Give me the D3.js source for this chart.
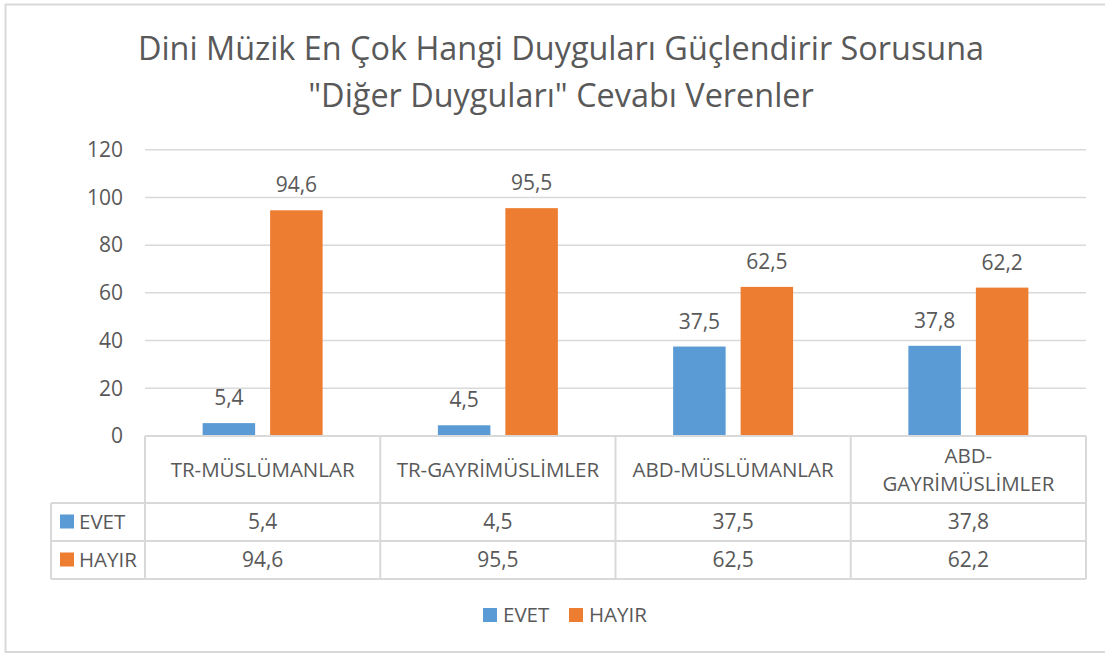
<!DOCTYPE html>
<html><head><meta charset="utf-8">
<script src="https://cdn.jsdelivr.net/npm/d3@7"></script>
<style>
body{margin:0;background:#fff;}
text{font-family:"Open Sans","Noto Sans",sans-serif;fill:#595959;}
</style></head>
<body><svg id="c" width="1105" height="653"></svg>
<script>
const titleLines = ["Dini Müzik En Çok Hangi Duyguları Güçlendirir Sorusuna", "\"Diğer Duyguları\" Cevabı Verenler"];
const categories = ["TR-MÜSLÜMANLAR", "TR-GAYRİMÜSLİMLER", "ABD-MÜSLÜMANLAR", "ABD-GAYRİMÜSLİMLER"];
const categoryLines = [["TR-MÜSLÜMANLAR"], ["TR-GAYRİMÜSLİMLER"], ["ABD-MÜSLÜMANLAR"], ["ABD-", "GAYRİMÜSLİMLER"]];
const seriesNames = ["EVET", "HAYIR"];
const evet = [5.4, 4.5, 37.5, 37.8];
const hayir = [94.6, 95.5, 62.5, 62.2];
const yTicks = [0, 20, 40, 60, 80, 100, 120];
const colors = ["#5b9bd5", "#ed7d31"];

const seriesValues = [evet, hayir];
const loc = d3.formatLocale({decimal: ",", thousands: ".", grouping: [3], currency: ["", ""]});
const fmt = loc.format(".1f");

const svg = d3.select("#c");
// outer border
svg.append("rect").attr("x", 5.5).attr("y", 4.5).attr("width", 1120).attr("height", 647.5)
  .attr("fill", "none").attr("stroke", "#d9d9d9").attr("stroke-width", 2);

// title
svg.append("g").selectAll("text").data(titleLines).join("text")
  .attr("x", 561).attr("y", (d, i) => 60 + i * 47)
  .attr("text-anchor", "middle").attr("font-size", 32.4).text(d => d);

const left = 145, right = 1086;
const x0 = d3.scaleBand().domain(categories).range([left, right]).padding(0);
const x1 = d3.scaleBand().domain(seriesNames).range([0, x0.bandwidth()]).paddingInner(0.222).paddingOuter(0.854);
const y = d3.scaleLinear().domain([0, 120]).range([436, 149.7]);

// gridlines
svg.append("g").selectAll("line").data(yTicks.filter(t => t > 0)).join("line")
  .attr("x1", left).attr("x2", right).attr("y1", d => y(d)).attr("y2", d => y(d))
  .attr("stroke", "#d9d9d9").attr("stroke-width", 1.5);

// y axis labels
const yAxis = d3.axisLeft(y).tickValues(yTicks).tickSize(0).tickPadding(0).tickFormat(d3.format("d"));
const ya = svg.append("g").attr("transform", "translate(123,0)").call(yAxis);
ya.select(".domain").remove();
ya.selectAll("text").attr("font-size", 21).attr("fill", "#595959").attr("font-family", "\"Open Sans\",sans-serif");

// bars
const groups = svg.append("g").selectAll("g").data(categories).join("g")
  .attr("transform", d => `translate(${x0(d)},0)`);
groups.selectAll("rect").data((d, i) => seriesNames.map((s, j) => ({s, v: seriesValues[j][i], j})))
  .join("rect")
  .attr("x", d => x1(d.s)).attr("width", x1.bandwidth())
  .attr("y", d => y(d.v)).attr("height", d => y(0) - y(d.v))
  .attr("fill", d => colors[d.j]);
groups.selectAll("text").data((d, i) => seriesNames.map((s, j) => ({s, v: seriesValues[j][i], j})))
  .join("text")
  .attr("x", d => x1(d.s) + x1.bandwidth() / 2).attr("y", d => y(d.v) - 18)
  .attr("text-anchor", "middle").attr("font-size", 21).text(d => fmt(d.v));

// data table
const tbl = svg.append("g");
const hdrTop = 436, hdrBot = 503, rowH = 38, legLeft = 51;
const lineC = "#d9d9d9", lw = 2;
tbl.append("line").attr("x1", left).attr("x2", right).attr("y1", hdrTop).attr("y2", hdrTop).attr("stroke", lineC).attr("stroke-width", lw);
[0, 1, 2].forEach(k => {
  tbl.append("line").attr("x1", legLeft).attr("x2", right)
    .attr("y1", hdrBot + k * rowH).attr("y2", hdrBot + k * rowH).attr("stroke", lineC).attr("stroke-width", lw);
});
tbl.append("line").attr("x1", legLeft).attr("x2", legLeft).attr("y1", hdrBot).attr("y2", hdrBot + 2 * rowH).attr("stroke", lineC).attr("stroke-width", lw);
categories.forEach(c => {
  tbl.append("line").attr("x1", x0(c)).attr("x2", x0(c)).attr("y1", hdrTop).attr("y2", hdrBot + 2 * rowH).attr("stroke", lineC).attr("stroke-width", lw);
});
tbl.append("line").attr("x1", right).attr("x2", right).attr("y1", hdrTop).attr("y2", hdrBot + 2 * rowH).attr("stroke", lineC).attr("stroke-width", lw);

// header labels
categories.forEach((c, i) => {
  const lines = categoryLines[i];
  const cy = (hdrTop + hdrBot) / 2;
  lines.forEach((ln, k) => {
    tbl.append("text").attr("x", x0(c) + x0.bandwidth() / 2)
      .attr("y", cy + (k - (lines.length - 1) / 2) * 28)
      .attr("dy", "0.35em").attr("text-anchor", "middle").attr("font-size", 20.5).text(ln);
  });
});
// rows
seriesNames.forEach((s, j) => {
  const cy = hdrBot + j * rowH + rowH / 2;
  tbl.append("rect").attr("x", 60).attr("y", cy - 7.5).attr("width", 14).attr("height", 14).attr("fill", colors[j]);
  tbl.append("text").attr("x", 79).attr("y", cy).attr("dy", "0.35em").attr("font-size", 20.5).text(s);
  categories.forEach((c, i) => {
    tbl.append("text").attr("x", x0(c) + x0.bandwidth() / 2).attr("y", cy).attr("dy", "0.35em")
      .attr("text-anchor", "middle").attr("font-size", 21).text(fmt(seriesValues[j][i]));
  });
});

// legend
const legX = [483, 569];
seriesNames.forEach((s, j) => {
  svg.append("rect").attr("x", legX[j]).attr("y", 608).attr("width", 14).attr("height", 14).attr("fill", colors[j]);
  svg.append("text").attr("x", legX[j] + 20).attr("y", 615).attr("dy", "0.35em").attr("font-size", 20.5).text(s);
});
</script></body></html>
